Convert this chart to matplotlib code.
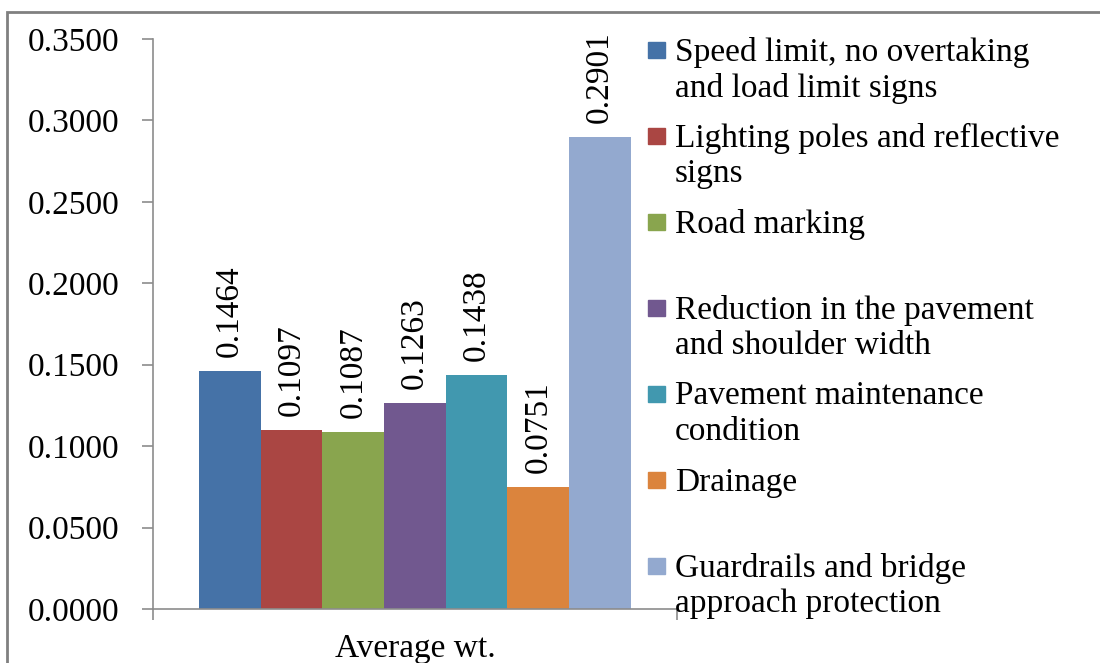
import matplotlib.pyplot as plt
from matplotlib.patches import Rectangle

# Данные
categories = [
    "Speed limit, no overtaking\nand load limit signs",
    "Lighting poles and reflective\nsigns",
    "Road marking",
    "Reduction in the pavement\nand shoulder width",
    "Pavement maintenance\ncondition",
    "Drainage",
    "Guardrails and bridge\napproach protection",
]
values = [0.1464, 0.1097, 0.1087, 0.1263, 0.1438, 0.0751, 0.2901]
colors = ["#4572A7", "#AA4643", "#89A54E", "#71588F", "#4198AF", "#DB843D", "#93A9CF"]
yticks = [0.0, 0.05, 0.10, 0.15, 0.20, 0.25, 0.30, 0.35]
group_label = "Average wt."

plt.rcParams['font.family'] = ['Liberation Serif', 'DejaVu Serif']
FS = 24

fig = plt.figure(figsize=(11, 6.63), dpi=100)
ax = fig.add_axes([0.139, 0.0814, 0.4765, 0.8598])

x = list(range(len(values)))
ax.bar(x, values, width=1.0, color=colors, edgecolor='none')

# Подписи значений над столбцами
for xi, v in zip(x, values):
    ax.annotate(f"{v:.4f}", (xi, v), xytext=(0, 10), textcoords='offset points',
                rotation=90, ha='center', va='bottom', fontsize=FS)

ax.set_xlim(-1.25, len(values) + 0.25)
ax.set_ylim(0, 0.35)
ax.set_yticks(yticks)
ax.set_yticklabels([f"{t:.4f}" for t in yticks], fontsize=FS)
ax.set_xticks(ax.get_xlim())
ax.set_xticklabels(["", ""])

for side in ['top', 'right']:
    ax.spines[side].set_visible(False)
for side in ['left', 'bottom']:
    ax.spines[side].set_color('#8c8c8c')
    ax.spines[side].set_linewidth(1.2)
ax.tick_params(axis='y', direction='out', length=8, width=1.2, color='#8c8c8c', pad=16)
ax.tick_params(axis='x', direction='out', length=8, width=1.2, color='#8c8c8c')

ax.text(0.5, -0.043, group_label, transform=ax.transAxes, ha='center', va='top', fontsize=FS)

# Легенда вручную (как в Excel)
top_px = 50
step_px = 86
for i, (lab, c) in enumerate(zip(categories, colors)):
    yc = 1 - (top_px + i * step_px) / 663
    fig.patches.append(Rectangle((648 / 1100, yc - 8 / 663), 17 / 1100, 16 / 663,
                                 transform=fig.transFigure, color=c))
    fig.text(675 / 1100, yc + 13 / 663, lab, ha='left', va='top', fontsize=FS,
             linespacing=1.2)

# Рамка
fig.patches.append(Rectangle((7 / 1100, -0.1), 1.2, 1 - 12 / 663 + 0.1,
                             transform=fig.transFigure, fill=False,
                             edgecolor='#808080', linewidth=2))

fig.savefig("out.png", dpi=100)
